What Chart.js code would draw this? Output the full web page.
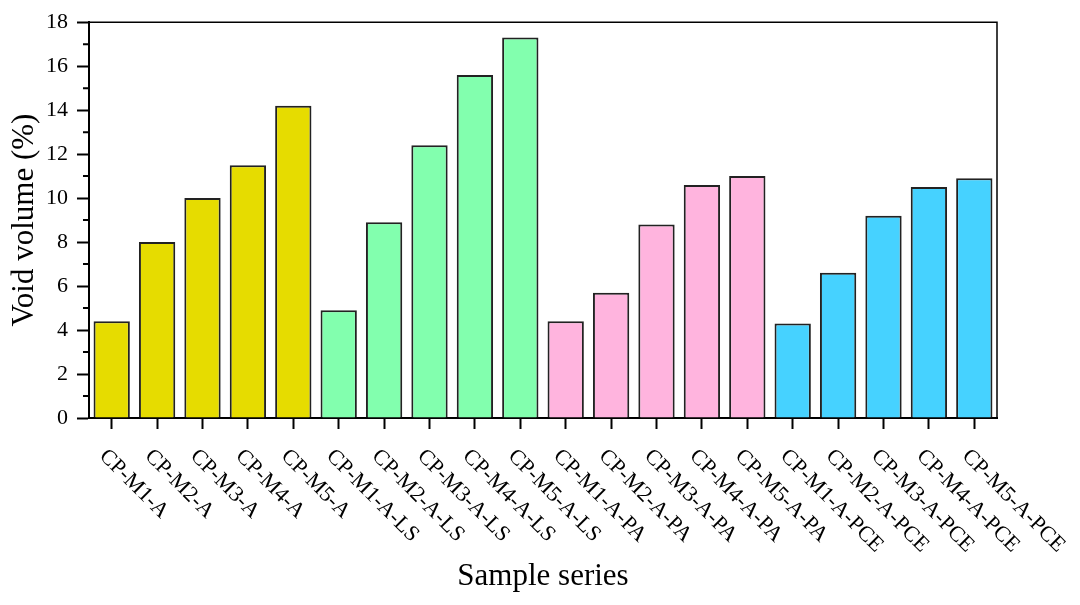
<!DOCTYPE html>
<html>
<head>
<meta charset="utf-8">
<script src="https://cdn.jsdelivr.net/npm/chart.js@4.4.1/dist/chart.umd.min.js"></script>
<style>
  html, body { margin: 0; padding: 0; background: #fff; }
  #wrap { width: 1080px; height: 605px; }
</style>
</head>
<body>
<div id="wrap"><canvas id="chart-bar"></canvas></div>
<script>
var categories = [
  "CP-M1-A", "CP-M2-A", "CP-M3-A", "CP-M4-A", "CP-M5-A",
  "CP-M1-A-LS", "CP-M2-A-LS", "CP-M3-A-LS", "CP-M4-A-LS", "CP-M5-A-LS",
  "CP-M1-A-PA", "CP-M2-A-PA", "CP-M3-A-PA", "CP-M4-A-PA", "CP-M5-A-PA",
  "CP-M1-A-PCE", "CP-M2-A-PCE", "CP-M3-A-PCE", "CP-M4-A-PCE", "CP-M5-A-PCE"
];
var voidVolume = [
  4.4, 8.0, 10.0, 11.5, 14.2,
  4.9, 8.9, 12.4, 15.6, 17.3,
  4.4, 5.7, 8.8, 10.6, 11.0,
  4.3, 6.6, 9.2, 10.5, 10.9
];
var yTicks = [0, 2, 4, 6, 8, 10, 12, 14, 16, 18];

// one fill colour per group of five samples
var groupColors = ["#E6DC00", "#82FFAE", "#FFB4DE", "#46D2FF"];
var serif = '"Liberation Serif", "DejaVu Serif", serif';

var framePlugin = {
  id: "frame",
  afterDraw: function (chart) {
    var ctx = chart.ctx;
    var a = chart.chartArea;
    var xs = chart.scales.x;
    var ys = chart.scales.y;
    ctx.save();
    ctx.strokeStyle = "#000";
    ctx.lineWidth = 1.5;
    ctx.beginPath();
    // top and right side of the box
    ctx.moveTo(a.left, a.top);
    ctx.lineTo(a.right, a.top);
    ctx.lineTo(a.right, a.bottom);
    ctx.stroke();
    // minor ticks between the labelled ones
    ctx.lineWidth = 2;
    ctx.beginPath();
    for (var i = 0; i < yTicks.length - 1; i++) {
      var py = ys.getPixelForValue((yTicks[i] + yTicks[i + 1]) / 2);
      ctx.moveTo(a.left - 6, py);
      ctx.lineTo(a.left, py);
    }
    ctx.stroke();

    // category labels, turned 45 degrees clockwise
    ctx.font = "22px " + serif;
    ctx.fillStyle = "#000";
    ctx.textAlign = "left";
    ctx.textBaseline = "middle";
    categories.forEach(function (label, i) {
      var px = xs.getPixelForTick(i);
      ctx.save();
      ctx.translate(px - 9, a.bottom + 35);
      ctx.rotate(Math.PI / 4);
      ctx.fillText(label, 0, 0);
      ctx.restore();
    });
    ctx.restore();
  }
};

var ctx1 = document.getElementById("chart-bar").getContext("2d");

new Chart(ctx1, {
  type: "bar",
  data: {
    labels: categories,
    datasets: [{
      label: "Void volume",
      data: voidVolume,
      backgroundColor: categories.map(function (c, i) { return groupColors[Math.floor(i / 5)]; }),
      borderColor: "#222",
      borderWidth: 2,
      barPercentage: 0.8,
      categoryPercentage: 1.0
    }]
  },
  options: {
    responsive: true,
    maintainAspectRatio: false,
    animation: false,
    layout: {
      padding: { top: 19, right: 83, left: 0, bottom: 0 }
    },
    plugins: {
      legend: { display: false },
      tooltip: { enabled: false }
    },
    scales: {
      x: {
        afterFit: function (scale) { scale.height = 187; },
        grid: {
          offset: false,
          drawOnChartArea: false,
          drawTicks: true,
          tickLength: 11,
          tickWidth: 2,
          tickColor: "#000"
        },
        border: { display: true, color: "#000", width: 2 },
        ticks: { display: false },
        title: {
          display: true,
          text: "Sample series",
          color: "#000",
          padding: { top: 0, bottom: 10 },
          font: { family: serif, size: 31 }
        }
      },
      y: {
        min: 0,
        max: 18,
        afterFit: function (scale) { scale.width = 89; },
        afterBuildTicks: function (scale) {
          scale.ticks = yTicks.map(function (v) { return { value: v }; });
        },
        grid: {
          drawOnChartArea: false,
          drawTicks: true,
          tickLength: 12,
          tickWidth: 2,
          tickColor: "#000"
        },
        border: { display: true, color: "#000", width: 2 },
        ticks: {
          color: "#000",
          padding: 9,
          font: { family: serif, size: 22 }
        },
        title: {
          display: true,
          text: "Void volume (%)",
          color: "#000",
          padding: { top: 6, bottom: 0 },
          font: { family: serif, size: 31 }
        }
      }
    }
  },
  plugins: [framePlugin]
});
</script>
</body>
</html>
